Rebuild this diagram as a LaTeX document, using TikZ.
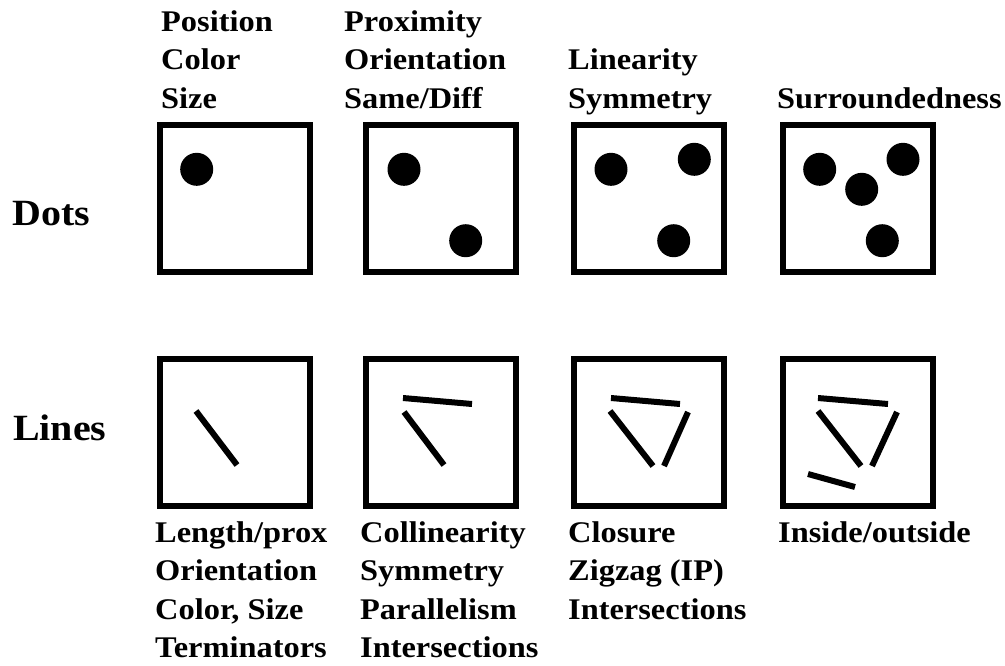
\documentclass[tikz,border=0pt]{standalone}
\usepackage{fontspec}
\setmainfont{Liberation Serif}[FakeStretch=1.08]
\usetikzlibrary{positioning}
\tikzset{
  panel/.style={rectangle, draw=black, line width=6pt, minimum width=150pt,
                minimum height=147pt, inner sep=0pt, outer sep=0pt},
  lbl/.style={font=\fontsize{30}{38.5}\selectfont\bfseries, align=left,
              inner sep=0pt, anchor=base west},
  rowlbl/.style={font=\fontsize{37}{44}\selectfont\bfseries, inner sep=0pt,
                 anchor=base west},
  dot/.style={fill=black},
  bar/.style={line width=6pt},
}

\begin{document}
\begin{tikzpicture}[x=1pt, y=-1pt]
  \useasboundingbox (0,0) rectangle (1005,665);

  % Row labels
  \node[rowlbl] (dots) at (12,225) {Dots};
  \node[rowlbl] (lines) at (13,440) {Lines};

  % Dots row
  \node[panel] (d1) at (235,198.5) {};
  \node[panel] (d2) at (441,198.5) {};
  \node[panel] (d3) at (649,198.5) {};
  \node[panel] (d4) at (858,198.5) {};

  % Lines row
  \node[panel] (l1) at (235,432) {};
  \node[panel] (l2) at (441,432) {};
  \node[panel] (l3) at (649,432) {};
  \node[panel] (l4) at (858,432) {};

  % Labels above (anchored at last baseline)
  \node[lbl] (t1) at (161,108) {Position\\Color\\Size};
  \node[lbl] (t2) at (344,108) {Proximity\\Orientation\\Same/Diff};
  \node[lbl] (t3) at (568,108) {Linearity\\Symmetry};
  \node[lbl] (t4) at (777,108) {Surroundedness};

  % Labels below
  \node[lbl] (b1) at (155,657.5) {Length/prox\\Orientation\\Color, Size\\Terminators};
  \node[lbl] (b2) at (360,657.5) {Collinearity\\Symmetry\\Parallelism\\Intersections};
  \node[lbl] (b3) at (568,619) {Closure\\Zigzag (IP)\\Intersections};
  \node[lbl] (b4) at (778,542) {Inside/outside};

  % Dots
  \fill[dot] (196.7,169.3) circle (16.5pt);

  \fill[dot] (404,169.3) circle (16.5pt);
  \fill[dot] (465.7,240.7) circle (16.5pt);

  \fill[dot] (611,169.3) circle (16.5pt);
  \fill[dot] (694.3,159.3) circle (16.5pt);
  \fill[dot] (673.7,240.7) circle (16.5pt);

  \fill[dot] (819.7,169.3) circle (16.5pt);
  \fill[dot] (903,159.3) circle (16.5pt);
  \fill[dot] (861.7,189.3) circle (16.5pt);
  \fill[dot] (882.3,240.7) circle (16.5pt);

  % Line segments
  \draw[bar] (196,411) -- (237,465);

  \draw[bar] (403,398) -- (472,404);
  \draw[bar] (404,412) -- (444,465);

  \draw[bar] (611,398) -- (680,404);
  \draw[bar] (610,411) -- (653,466);
  \draw[bar] (688,412) -- (664,466);

  \draw[bar] (818,398) -- (888,404);
  \draw[bar] (818,411) -- (861,466);
  \draw[bar] (897,412) -- (872,466);
  \draw[bar] (808,474) -- (855,487);
\end{tikzpicture}
\end{document}
